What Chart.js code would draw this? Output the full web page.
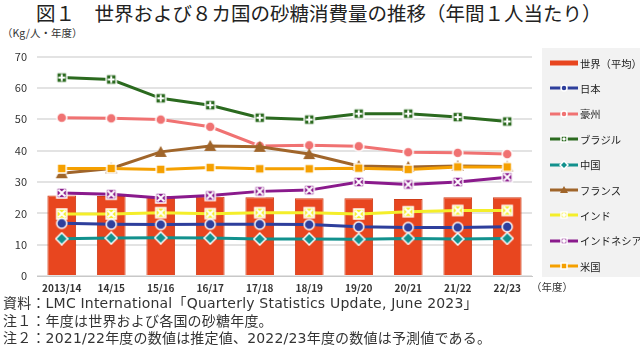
<!DOCTYPE html>
<html lang="ja">
<head>
<meta charset="utf-8">
<script src="https://cdn.jsdelivr.net/npm/chart.js@4.4.0/dist/chart.umd.min.js"></script>
<style>
  body { margin:0; width:640px; height:351px; background:#fff; position:relative; overflow:hidden; font-family:"Noto Sans CJK JP", sans-serif; color:#222; }
  #title { position:absolute; left:36px; top:-1px; font-size:19.5px; line-height:28px; white-space:nowrap; color:#222; }
  #unit { position:absolute; left:2px; top:25px; font-size:10.5px; color:#333; }
  #wrap { position:absolute; left:0; top:40px; width:540px; height:260px; }
  #nendo { position:absolute; left:531px; top:279px; font-size:10.5px; color:#333; }
  #legend { position:absolute; left:542px; top:48px; width:98px; height:229px; background:#f2f2f2; }
  .item { position:absolute; left:8px; height:14px; display:flex; align-items:center; font-size:10.3px; color:#222; white-space:nowrap; }
  .item canvas { margin-right:2px; }
  #notes { position:absolute; left:3px; top:295px; font-family:"DejaVu Sans", "Noto Sans CJK JP", sans-serif; font-size:14px; letter-spacing:0.2px; line-height:17.5px; white-space:nowrap; color:#333; }
</style>
</head>
<body>
<div id="title">図１　世界および８カ国の砂糖消費量の推移（年間１人当たり）</div>
<div id="unit">（Kg/人・年度）</div>
<div id="wrap"><canvas id="chart"></canvas></div>
<div id="nendo">（年度）</div>
<div id="legend"></div>
<div id="notes">
  資料：LMC International「Quarterly Statistics Update, June 2023」<br>
  注１：年度は世界および各国の砂糖年度。<br>
  注２：2021/22年度の数値は推定値、2022/23年度の数値は予測値である。
</div>
<script>
const years = ['2013/14', '14/15', '15/16', '16/17', '17/18', '18/19', '19/20', '20/21', '21/22', '22/23'];
const world = [25.7, 25.5, 25.5, 25.3, 25.1, 24.8, 24.8, 24.6, 25.1, 25.1];
const japan = [16.8, 16.5, 16.4, 16.5, 16.5, 16.4, 15.7, 15.5, 15.5, 15.7];
const australia = [50.5, 50.3, 49.9, 47.6, 41.5, 41.7, 41.4, 39.5, 39.3, 38.9];
const brazil = [63.3, 62.7, 56.7, 54.5, 50.5, 49.9, 51.8, 51.8, 50.7, 49.3];
const china = [11.9, 12.1, 12.2, 12.1, 11.8, 11.8, 11.7, 12.0, 11.8, 12.0];
const france = [32.8, 34.3, 39.6, 41.5, 41.2, 38.9, 35.1, 34.8, 35.1, 34.9];
const india = [19.8, 19.8, 20.2, 19.9, 20.2, 20.2, 19.8, 20.5, 20.9, 20.9];
const indonesia = [26.5, 26.1, 24.9, 25.7, 27.0, 27.4, 30.0, 29.2, 30.0, 31.5];
const usa = [34.3, 34.3, 34.0, 34.6, 34.2, 34.2, 34.4, 34.0, 34.8, 34.8];

// marker drawn on a small canvas, used as pointStyle
function makeMarker(kind, color, size) {
    const c = document.createElement('canvas');
    c.width = size + 4;
    c.height = size + 4;
    const g = c.getContext('2d');
    const m = c.width / 2, r = size / 2;
    g.fillStyle = color;
    g.strokeStyle = '#fff';
    g.lineWidth = 1.5;
    g.beginPath();
    if (kind === 'circle') {
        g.arc(m, m, r, 0, Math.PI * 2);
    } else if (kind === 'diamond') {
        g.moveTo(m, m - r - 1); g.lineTo(m + r + 1, m); g.lineTo(m, m + r + 1); g.lineTo(m - r - 1, m); g.closePath();
    } else if (kind === 'triangle') {
        g.moveTo(m, m - r - 1); g.lineTo(m + r + 1, m + r); g.lineTo(m - r - 1, m + r); g.closePath();
    } else {
        g.rect(m - r, m - r, size, size);
    }
    g.fill();
    if (kind !== 'triangle') g.stroke();
    if (kind === 'plus') {
        g.beginPath();
        g.moveTo(m, m - r + 1.5); g.lineTo(m, m + r - 1.5);
        g.moveTo(m - r + 1.5, m); g.lineTo(m + r - 1.5, m);
        g.lineWidth = 2;
        g.stroke();
    }
    if (kind === 'cross') {
        g.beginPath();
        g.moveTo(m - r + 1.5, m - r + 1.5); g.lineTo(m + r - 1.5, m + r - 1.5);
        g.moveTo(m + r - 1.5, m - r + 1.5); g.lineTo(m - r + 1.5, m + r - 1.5);
        g.lineWidth = 2;
        g.stroke();
    }
    return c;
}

const series = [
    { label: '日本', data: japan, color: '#2e3f9c', kind: 'circle', order: 3 },
    { label: '豪州', data: australia, color: '#f07272', kind: 'circle', order: 4 },
    { label: 'ブラジル', data: brazil, color: '#2b6a1f', kind: 'plus', order: 5 },
    { label: '中国', data: china, color: '#12918d', kind: 'diamond', order: 6 },
    { label: 'フランス', data: france, color: '#a0652a', kind: 'triangle', order: 2 },
    { label: 'インド', data: india, color: '#f4ee2a', kind: 'cross', order: 7 },
    { label: 'インドネシア', data: indonesia, color: '#8a1a8c', kind: 'cross', order: 8 },
    { label: '米国', data: usa, color: '#f5a000', kind: 'square', order: 1 }
];

const datasets = [{
    type: 'bar',
    label: '世界（平均）',
    data: world,
    backgroundColor: '#e8461f',
    borderColor: '#cf3d18',
    borderWidth: 1,
    barPercentage: 0.58,
    categoryPercentage: 1,
    order: 20
}];
series.forEach(s => {
    datasets.push({
        type: 'line',
        label: s.label,
        data: s.data,
        borderColor: s.color,
        backgroundColor: s.color,
        borderWidth: 3,
        pointStyle: makeMarker(s.kind, s.color, s.kind === 'square' ? 9 : 10),
        pointRadius: 5,
        tension: 0,
        order: s.order
    });
});

const ctx = document.getElementById('chart');

var chart = new Chart(ctx, {
    data: {
        labels: years,
        datasets: datasets
    },
    options: {
        responsive: true,
        maintainAspectRatio: false,
        animation: false,
        layout: { padding: { top: 11, right: 3, left: 0, bottom: 0 } },
        plugins: {
            legend: { display: false },
            tooltip: { enabled: false }
        },
        scales: {
            x: {
                offset: true,
                grid: { display: false, drawTicks: false },
                border: { display: true, color: '#c8c8c8', width: 1 },
                ticks: { padding: 6, color: '#333', maxRotation: 0, autoSkip: false,
                    font: { family: '"Noto Sans CJK JP"', size: 10, weight: 'bold' } },
                afterFit(s) { s.height = 24; }
            },
            y: {
                min: 0,
                max: 70,
                ticks: { stepSize: 10, padding: 10, color: '#333',
                    font: { family: '"Noto Sans CJK JP"', size: 11 } },
                grid: { color: '#e3e3e3', lineWidth: 2, drawTicks: false },
                border: { display: false },
                afterFit(s) { s.width = 37; }
            }
        }
    }
});

// legend on the right
const legend = document.getElementById('legend');
datasets.forEach((d, i) => {
    const item = document.createElement('div');
    item.className = 'item';
    item.style.top = (8 + i * 25.4) + 'px';
    const sym = document.createElement('canvas');
    sym.width = 28; sym.height = 14;
    const g = sym.getContext('2d');
    if (d.type === 'bar') {
        g.fillStyle = d.backgroundColor;
        g.fillRect(0, 4.5, 28, 5);
    } else {
        g.strokeStyle = d.borderColor;
        g.lineWidth = 3;
        g.beginPath(); g.moveTo(0, 7); g.lineTo(28, 7); g.stroke();
        const s = series[i - 1];
        const mk = makeMarker(s.kind, s.color, 6);
        g.drawImage(mk, 14 - mk.width / 2, 7 - mk.height / 2);
    }
    item.appendChild(sym);
    const t = document.createElement('span');
    t.textContent = d.label;
    item.appendChild(t);
    legend.appendChild(item);
});
</script>
</body>
</html>
